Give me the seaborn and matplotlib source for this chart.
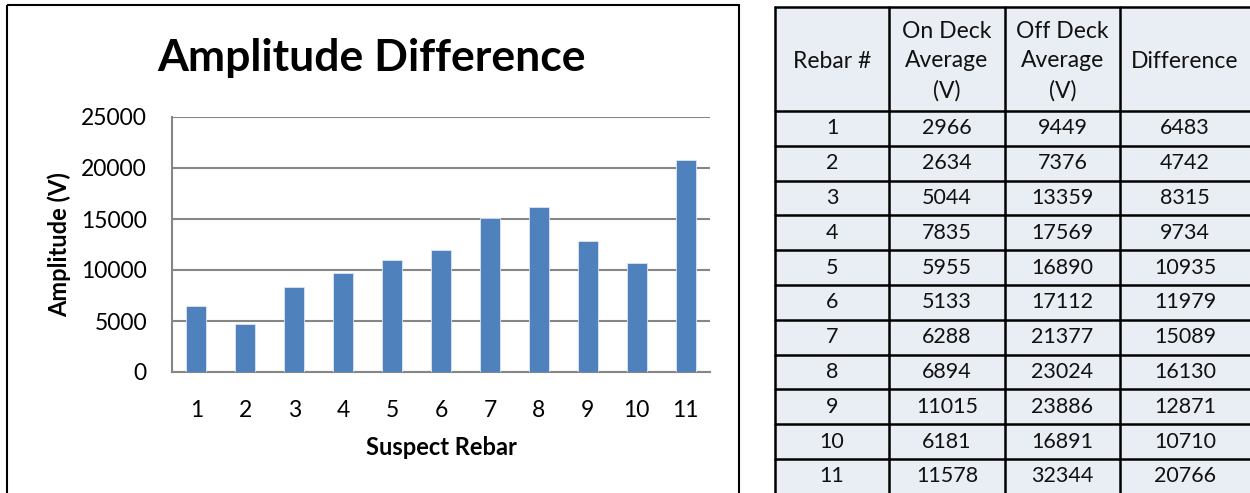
import matplotlib
matplotlib.use("Agg")
import matplotlib.pyplot as plt
from matplotlib.patches import Rectangle
import seaborn as sns
import pandas as pd

# Rebar measurements (V)
rebar = ["1", "2", "3", "4", "5", "6", "7", "8", "9", "10", "11"]
on_deck = [2966, 2634, 5044, 7835, 5955, 5133, 6288, 6894, 11015, 6181, 11578]
off_deck = [9449, 7376, 13359, 17569, 16890, 17112, 21377, 23024, 23886, 16891, 32344]
difference = [6483, 4742, 8315, 9734, 10935, 11979, 15089, 16130, 12871, 10710, 20766]

headers = ["Rebar #", "On Deck\nAverage\n(V)", "Off Deck\nAverage\n(V)", "Difference"]
y_ticks = [0, 5000, 10000, 15000, 20000, 25000]

sns.set_theme(style="white")
plt.rcParams["font.family"] = ["Lato", "DejaVu Sans"]

W, H = 1250, 493
fig = plt.figure(figsize=(W / 100, H / 100), dpi=100)
fig.patch.set_facecolor("white")

# Background canvas in pixel coordinates for the frame and the table
bg = fig.add_axes([0, 0, 1, 1], zorder=0)
bg.set_xlim(0, W)
bg.set_ylim(H, 0)
bg.axis("off")

# Chart frame
bg.add_patch(Rectangle((7, 5), 732, 500, fill=False, edgecolor="black", lw=1.5))

# Bar chart
ax_l, ax_r, ax_t, ax_b = 172, 710, 117, 372
ax = fig.add_axes([ax_l / W, (H - ax_b) / H, (ax_r - ax_l) / W, (ax_b - ax_t) / H], zorder=1)
ax.patch.set_alpha(0)
df = pd.DataFrame({"Rebar": rebar, "Difference": difference})
sns.barplot(data=df, x="Rebar", y="Difference", order=rebar, color="#4f81bd",
            saturation=1, width=0.41, edgecolor="#dce6f2", linewidth=0.6, ax=ax, zorder=3)
ax.set_xlim(-0.5, len(rebar) - 0.5)
ax.set_ylim(0, 25000)
ax.set_yticks(y_ticks)
ax.set_yticklabels([str(v) for v in y_ticks])
ax.yaxis.grid(True, color="#868686", lw=1.5, zorder=0)
ax.set_axisbelow(True)
for s in ["top", "right"]:
    ax.spines[s].set_visible(False)
for s in ["left", "bottom"]:
    ax.spines[s].set_color("#868686")
    ax.spines[s].set_linewidth(1.5)
ax.tick_params(axis="y", length=6, width=1.5, color="#868686", labelsize=16.5, pad=12,
               labelcolor="black")
ax.tick_params(axis="x", length=0, labelsize=16.5, pad=20, labelcolor="black")
ax.set_xlabel("Suspect Rebar", fontsize=17, fontweight="bold", labelpad=11, color="black")
ax.set_ylabel("Amplitude (V)", fontsize=17, fontweight="bold", labelpad=7, color="black")
fig.text(372 / W, 1 - 58 / H, "Amplitude Difference", fontsize=32, fontweight="bold",
         ha="center", va="center", color="black")

# Table
col_edges = [775, 889, 1005, 1120, 1262]
row_h = 34.8
row_edges = [7, 111] + [111 + row_h * (i + 1) for i in range(len(rebar))]
fill = "#e9edf4"
bg.add_patch(Rectangle((col_edges[0], row_edges[0]), col_edges[-1] - col_edges[0],
                       row_edges[-1] - row_edges[0], facecolor=fill, edgecolor="none"))
for x in col_edges:
    bg.plot([x, x], [row_edges[0], row_edges[-1]], color="black", lw=1.8)
for y in row_edges:
    bg.plot([col_edges[0], col_edges[-1]], [y, y], color="black", lw=1.8)

cx = [(col_edges[i] + col_edges[i + 1]) / 2 for i in range(4)]
cx[-1] = (col_edges[3] + 1250) / 2
for i, h in enumerate(headers):
    bg.text(cx[i], (row_edges[0] + row_edges[1]) / 2 + 2, h, ha="center", va="center",
            fontsize=16.5, linespacing=1.5, color="#111111")
for r in range(len(rebar)):
    cy = (row_edges[r + 1] + row_edges[r + 2]) / 2
    vals = [rebar[r], str(on_deck[r]), str(off_deck[r]), str(difference[r])]
    for i, v in enumerate(vals):
        bg.text(cx[i], cy, v, ha="center", va="center", fontsize=15.5, color="#111111")

fig.savefig("out.png", dpi=100)
